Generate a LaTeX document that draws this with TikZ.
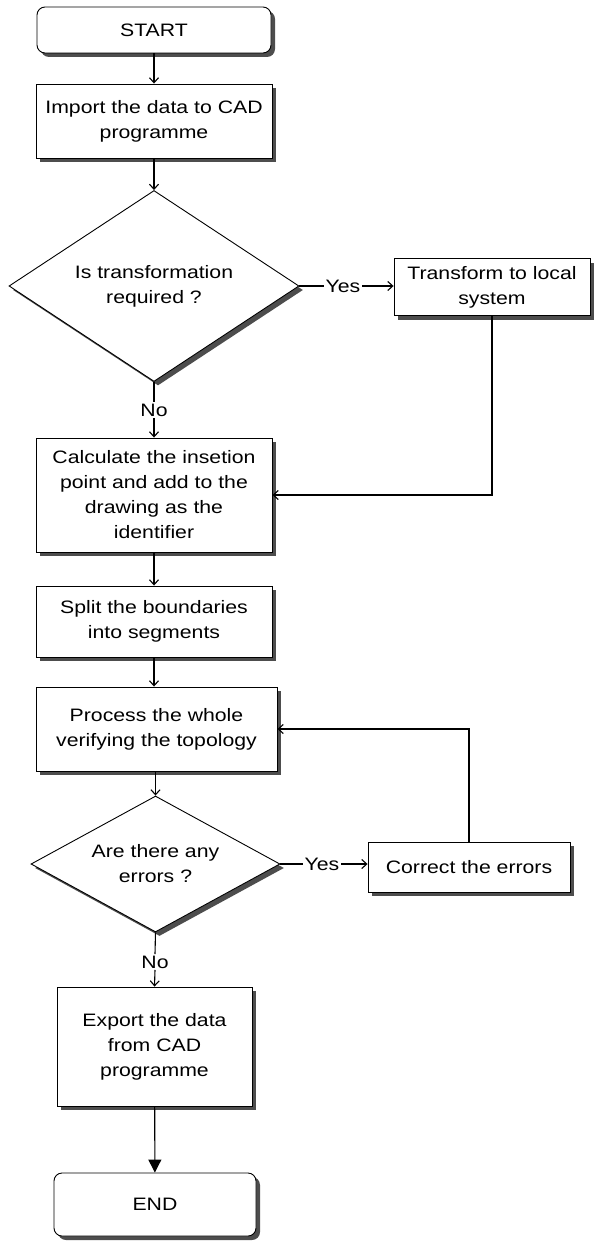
\documentclass[tikz,border=0pt]{standalone}
\usepackage{fontspec}
\setmainfont[FakeStretch=1.18]{Liberation Sans}
\usetikzlibrary{shapes.geometric,shadows,arrows.meta}
\definecolor{shadowgray}{HTML}{4D4D4D}
\begin{document}
\begin{tikzpicture}[x=1pt,y=1pt,
 every node/.style={font=\fontsize{18}{25}\selectfont},
 shad/.style={drop shadow={shadow xshift=4pt,shadow yshift=-4pt,fill=shadowgray,opacity=1}},
 procbox/.style={draw,line width=0.9pt,fill=white,shad,align=center,inner sep=0pt},
 term/.style={procbox,rounded corners=8pt},
 decision/.style={draw,diamond,line width=0.9pt,fill=white,shad,align=center,inner sep=0pt},
 flow/.style={line width=1.1pt,-{Straight Barb[length=5pt,width=9pt,line width=1.1pt]}},
 bigflow/.style={line width=1.1pt,-{Triangle[length=13pt,width=13pt]}},
 plain/.style={line width=1.1pt},
 lbl/.style={inner sep=1.5pt}
]
\useasboundingbox (0,0) rectangle (594,-1241);
\node[term,minimum width=234,minimum height=46] (start) at (154,-30) {START};
\node[procbox,minimum width=236,minimum height=74] (import) at (154,-121) {Import the data to CAD\\programme};
\node[decision,minimum width=290,minimum height=191,shape aspect=1.5] (d1) at (154,-286) {Is transformation\\required ?};
\node[lbl] (yes1) at (343,-286) {Yes};
\node[procbox,minimum width=196,minimum height=57] (trans) at (492,-287) {Transform to local\\system};
\node[lbl] (no1) at (154,-410) {No};
\node[procbox,minimum width=236,minimum height=114] (calc) at (154,-495) {Calculate the insetion\\point and add to the\\drawing as the\\identifier};
\node[procbox,minimum width=236,minimum height=71] (split) at (154,-621.5) {Split the boundaries\\into segments};
\node[procbox,minimum width=241,minimum height=84] (proc) at (156.5,-729) {Process the whole\\verifying the topology};
\node[decision,minimum width=249,minimum height=136,shape aspect=1.8] (d2) at (155.5,-864) {Are there any\\errors ?};
\node[lbl] (yes2) at (322,-864) {Yes};
\node[procbox,minimum width=202,minimum height=50] (corr) at (469,-867) {Correct the errors};
\node[lbl] (no2) at (155,-962) {No};
\node[procbox,minimum width=195,minimum height=119] (exp) at (154.5,-1046.5) {Export the data\\from CAD\\programme};
\node[term,minimum width=202,minimum height=63] (end) at (155,-1204.5) {END};

\draw[flow] (start) -- (import);
\draw[flow] (import) -- (d1);
\draw[plain] (d1.east) -- (yes1.west);
\draw[flow] (yes1.east) -- (yes1.east -| trans.west);
\draw[plain] (d1.south) -- (no1.north);
\draw[flow] (no1.south) -- (calc.north);
\draw[flow] (trans.south) |- (calc.east);
\draw[flow] (calc) -- (split);
\draw[flow] (split.south) -- (split.south |- proc.north);
\draw[flow] (d2.north |- proc.south) -- (d2.north);
\draw[plain] (d2.east) -- (yes2.west);
\draw[flow] (yes2.east) -- (yes2.east -| corr.west);
\draw[flow] (corr.north) |- (proc.east);
\draw[plain] (d2.south) -- (no2.north);
\draw[flow] (no2.south) -- (exp.north);
\draw[bigflow] (exp) -- (end);
\end{tikzpicture}
\end{document}
